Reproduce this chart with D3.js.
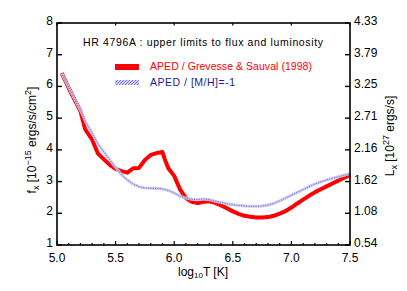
<!DOCTYPE html>
<html><head><meta charset="utf-8">
<script src="https://cdn.jsdelivr.net/npm/d3@7"></script>
<style>body{margin:0;background:#fff}svg{display:block}text{font-family:"Liberation Sans",Arial,sans-serif}</style>
</head><body><svg id="c" width="407" height="291"></svg>
<script>
const logT = [5.04,5.10,5.15,5.20,5.24,5.30,5.35,5.40,5.45,5.50,5.55,5.60,5.65,5.70,5.75,5.80,5.85,5.90,5.92,5.95,6.00,6.05,6.10,6.15,6.20,6.25,6.30,6.35,6.40,6.45,6.50,6.55,6.60,6.65,6.70,6.75,6.80,6.85,6.90,6.95,7.00,7.05,7.10,7.15,7.20,7.25,7.30,7.35,7.40,7.45,7.50];
const fxSolar = [6.42,5.95,5.58,5.22,4.65,4.32,3.88,3.70,3.53,3.40,3.33,3.28,3.42,3.43,3.68,3.84,3.90,3.93,3.70,3.42,3.18,2.75,2.48,2.36,2.32,2.36,2.38,2.33,2.25,2.16,2.06,1.98,1.92,1.89,1.87,1.87,1.88,1.92,1.99,2.07,2.18,2.31,2.43,2.55,2.66,2.76,2.85,2.94,3.03,3.12,3.20];
const logT2 = [5.04,5.10,5.15,5.20,5.25,5.30,5.35,5.40,5.45,5.50,5.55,5.60,5.65,5.70,5.75,5.80,5.85,5.90,5.95,6.00,6.05,6.10,6.15,6.20,6.25,6.30,6.35,6.40,6.45,6.50,6.55,6.60,6.65,6.70,6.75,6.80,6.85,6.90,6.95,7.00,7.05,7.10,7.15,7.20,7.25,7.30,7.35,7.40,7.45,7.50];
const fxMetalPoor = [6.42,5.97,5.60,5.25,4.85,4.52,4.18,3.93,3.68,3.45,3.22,3.05,2.92,2.84,2.80,2.79,2.78,2.77,2.72,2.64,2.54,2.48,2.44,2.43,2.45,2.43,2.38,2.34,2.30,2.27,2.25,2.23,2.22,2.22,2.23,2.26,2.31,2.39,2.48,2.57,2.66,2.75,2.84,2.92,2.99,3.05,3.10,3.15,3.20,3.25];
const xTicks = [5.0,5.5,6.0,6.5,7.0,7.5];
const xMinor = d3.range(5.0,7.5001,0.1);
const yTicks = [1,2,3,4,5,6,7,8];
const yRightLabels = ["0.54","1.08","1.62","2.16","2.71","3.25","3.79","4.33"];
const titleText = "HR 4796A : upper limits to flux and luminosity";
const legendLabels = ["APED / Grevesse & Sauval (1998)","APED / [M/H]=-1"];

const svg = d3.select("#c");
const L=57,R=350,T=23,B=245;
const x = d3.scaleLinear().domain([5.0,7.5]).range([L,R]);
const y = d3.scaleLinear().domain([1,8]).range([B,T]);

const defs = svg.append("defs");
const pat = defs.append("pattern").attr("id","hatch").attr("patternUnits","userSpaceOnUse").attr("width",3).attr("height",3);
pat.append("rect").attr("width",3).attr("height",3).attr("fill","#d0d0f2");
pat.append("path").attr("d","M0,3 L3,0").attr("stroke","#5858c8").attr("stroke-width",0.7);

const line = d3.line().x(d=>x(d[0])).y(d=>y(d[1])).curve(d3.curveLinear);
// red (solar)
svg.append("path").datum(logT.map((t,i)=>[t,fxSolar[i]])).attr("d",line)
  .attr("fill","none").attr("stroke","#ff0000").attr("stroke-width",4).attr("stroke-linejoin","round");
// blue (metal-poor) hatched
svg.append("path").datum(logT2.map((t,i)=>[t,fxMetalPoor[i]])).attr("d",line)
  .attr("fill","none").attr("stroke","#c6c6ee").attr("stroke-width",3).attr("stroke-linejoin","round").attr("opacity",0.9);
svg.append("path").datum(logT2.map((t,i)=>[t,fxMetalPoor[i]])).attr("d",line)
  .attr("fill","none").attr("stroke","#5a5acc").attr("stroke-width",0.9).attr("stroke-dasharray","1,1.4");

// frame
svg.append("rect").attr("x",L).attr("y",T).attr("width",R-L).attr("height",B-T)
  .attr("fill","none").attr("stroke","#000").attr("stroke-width",1.6);

// ticks
const g = svg.append("g");
xMinor.forEach(v=>{
  const major = xTicks.some(m=>Math.abs(m-v)<1e-6);
  g.append("line").attr("x1",x(v)).attr("x2",x(v)).attr("y1",B).attr("y2",B-(major?4:2)).attr("stroke","#000").attr("stroke-width",1.2);
  if(major) g.append("line").attr("x1",x(v)).attr("x2",x(v)).attr("y1",T).attr("y2",T+2.5).attr("stroke","#000").attr("stroke-width",1.2);
});
xTicks.forEach(v=>{
  g.append("text").attr("x",x(v)).attr("y",262).attr("text-anchor","middle").attr("font-size",12).text(v.toFixed(1));
});
yTicks.forEach((v,i)=>{
  g.append("line").attr("x1",L).attr("x2",L+5).attr("y1",y(v)).attr("y2",y(v)).attr("stroke","#000").attr("stroke-width",1.4);
  g.append("line").attr("x1",R).attr("x2",R-5).attr("y1",y(v)).attr("y2",y(v)).attr("stroke","#000").attr("stroke-width",1.4);
  g.append("text").attr("x",53).attr("y",y(v)+2).attr("text-anchor","end").attr("font-size",12).text(v);
  g.append("text").attr("x",354).attr("y",y(v)+2).attr("text-anchor","start").attr("font-size",12).text(yRightLabels[i]);
});

// x label
const xl = svg.append("text").attr("x",203).attr("y",276).attr("text-anchor","middle").attr("font-size",12);
xl.append("tspan").text("log");
xl.append("tspan").attr("font-size",8).attr("dy",2).text("10");
xl.append("tspan").attr("dy",-2).text("T  [K]");

// left label
const yl = svg.append("text").attr("transform","translate(36,140) rotate(-90)").attr("text-anchor","middle").attr("font-size",12);
yl.append("tspan").text("f");
yl.append("tspan").attr("font-size",9).attr("dy",3).text("x");
yl.append("tspan").attr("dy",-3).text(" [10");
yl.append("tspan").attr("font-size",9).attr("dy",-5).text("−15");
yl.append("tspan").attr("dy",5).text(" ergs/s/cm");
yl.append("tspan").attr("font-size",9).attr("dy",-5).text("2");
yl.append("tspan").attr("dy",5).text("]");

// right label
const yr = svg.append("text").attr("transform","translate(394,136) rotate(-90)").attr("text-anchor","middle").attr("font-size",12);
yr.append("tspan").text("L");
yr.append("tspan").attr("font-size",9).attr("dy",3).text("x");
yr.append("tspan").attr("dy",-3).text(" [10");
yr.append("tspan").attr("font-size",9).attr("dy",-5).text("27");
yr.append("tspan").attr("dy",5).text(" ergs/s]");

// title
svg.append("text").attr("x",83).attr("y",46).attr("font-size",10.5).attr("textLength",240).attr("lengthAdjust","spacing").text(titleText);

// legend
svg.append("rect").attr("x",115).attr("y",64).attr("width",24).attr("height",6).attr("fill","#ff0000");
svg.append("text").attr("x",150).attr("y",70).attr("font-size",10.5).attr("fill","#ff0000").attr("textLength",162).attr("lengthAdjust","spacing").text(legendLabels[0]);
svg.append("rect").attr("x",115).attr("y",80).attr("width",24).attr("height",5).attr("fill","url(#hatch)");
svg.append("text").attr("x",150).attr("y",86).attr("font-size",10.5).attr("fill","#1a1a9a").attr("textLength",85).attr("lengthAdjust","spacing").text(legendLabels[1]);
</script></body></html>
